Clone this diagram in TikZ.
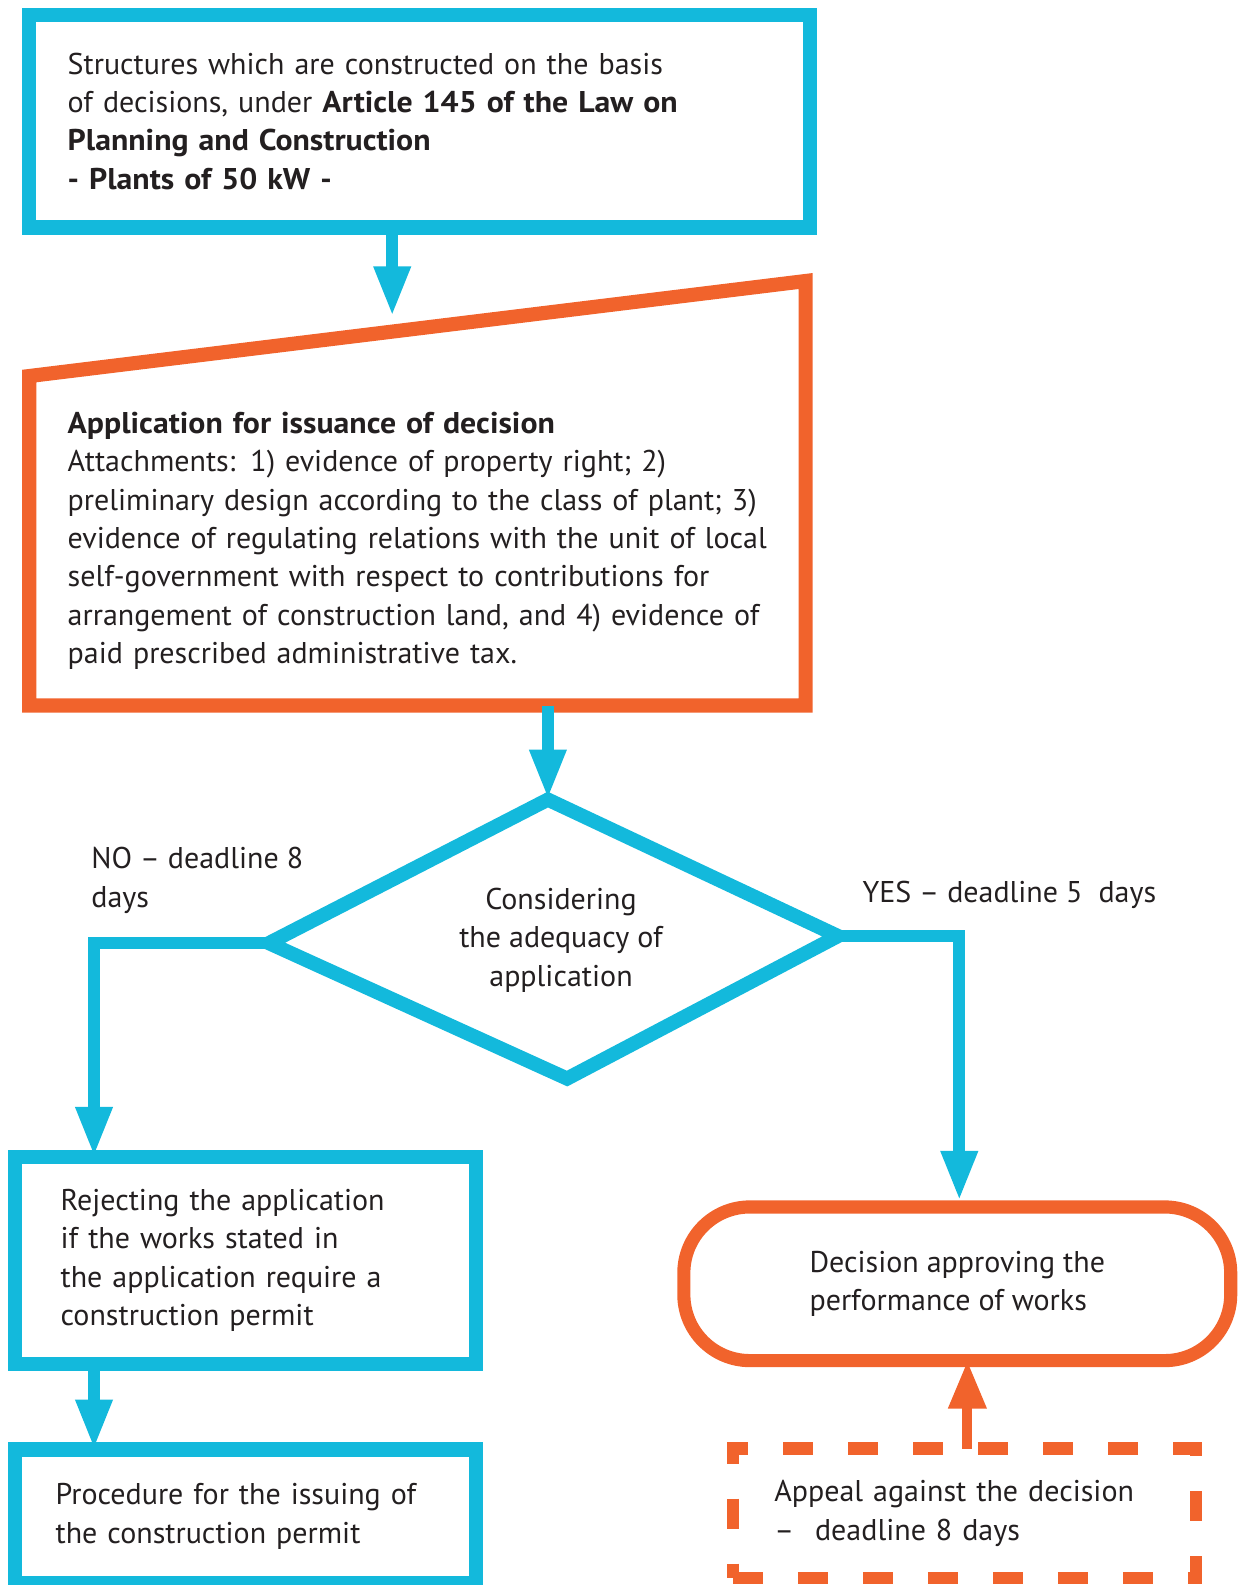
\documentclass[tikz,border=0pt]{standalone}
\usepackage{fontspec}
\setmainfont[BoldFeatures={FakeStretch=1.06}]{PT Sans}
\usepackage{tikz}
\usetikzlibrary{arrows.meta,calc}
\definecolor{cblue}{RGB}{19,185,220}
\definecolor{corange}{RGB}{241,99,44}
\definecolor{ink}{RGB}{35,31,32}
\newdimen\pxu
\pxu=0.5053pt

\begin{document}
\begin{tikzpicture}[x=\pxu, y=-\pxu,
  font=\fontsize{15}{19.2}\selectfont,
  every node/.style={text=ink},
  bbox/.style={draw=cblue, line width=14\pxu, align=left, outer sep=0pt},
  obox/.style={draw=corange, line width=13\pxu, align=left, outer sep=0pt},
  dia/.style={draw=cblue, line width=14\pxu, line join=miter},
  bflow/.style={-{Triangle[length=25pt, width=17pt]}, draw=cblue, line width=12\pxu},
  oflow/.style={-{Triangle[length=24pt, width=18pt]}, draw=corange, line width=10\pxu},
  lab/.style={align=left, inner sep=0pt}]

\useasboundingbox (0,0) rectangle (1225,1568);

\node[bbox, minimum width=772\pxu, minimum height=210\pxu, text width=696\pxu, inner xsep=38\pxu] (top) at (415,120)
  {Structures which are constructed on the basis\\of decisions, under \textbf{Article 145 of the Law on}\\\textbf{Planning and Construction}\\\textbf{- Plants of 50 kW -}};

\node[align=left, outer sep=0pt, minimum width=768\pxu, minimum height=326\pxu, text width=692\pxu, inner xsep=38\pxu] (appl) at (413,535)
  {\textbf{Application for issuance of decision}\\Attachments: 1) evidence of property right; 2)\\preliminary design according to the class of plant; 3)\\evidence of regulating relations with the unit of local\\self-government with respect to contributions for\\arrangement of construction land, and 4) evidence of\\paid prescribed administrative tax.};
\draw[corange, line width=14\pxu, line join=miter] (appl.south west) -- (appl.north west) -- ($(appl.north east)+(0,-94)$) -- (appl.south east) -- cycle;

\coordinate (dtop) at (542,791);
\coordinate (dleft) at (266,933);
\coordinate (dbot) at (561,1067);
\coordinate (dright) at (829,926);
\draw[dia] (dtop) -- (dright) -- (dbot) -- (dleft) -- cycle;
\node[align=center] (cons) at (555,930) {Considering\\the adequacy of\\application};

\node[lab, anchor=west] (nolab) at (90,871) {NO -- deadline 8\\days};
\node[lab, anchor=west] (yeslab) at (853,885) {YES -- deadline 5~~days};

\node[bbox, minimum width=456\pxu, minimum height=205\pxu, text width=366\pxu, inner xsep=45\pxu] (rej) at (243,1247)
  {Rejecting the application\\if the works stated in\\the application require a\\construction permit};

\node[bbox, minimum width=456\pxu, minimum height=132\pxu, text width=376\pxu, inner xsep=40\pxu] (proc) at (243,1500)
  {Procedure for the issuing of\\the construction permit};

\node[obox, rounded corners=33pt, minimum width=541\pxu, minimum height=152\pxu] (dec) at (947,1270)
  {Decision approving the\\performance of works};

\node[obox, line width=12\pxu, dash pattern=on 15pt off 17.5pt, minimum width=458\pxu, minimum height=128\pxu, text width=376\pxu, inner xsep=41\pxu] (appeal) at (954,1497)
  {Appeal against the decision\\--\hspace{0.7em}deadline 8 days};

\coordinate (a1) at (388,313);
\draw[bflow] (top.south -| a1) -- (a1);
\draw[bflow] (appl.south -| dtop) -- (dtop);
\coordinate (nocorner) at (93,933);
\draw[bflow] (dleft) -- (nocorner) -- (rej.north -| nocorner);
\coordinate (yescorner) at (949,926);
\draw[bflow, shorten >=3pt] (dright) -- (yescorner) -- (dec.north -| yescorner);
\draw[bflow] (rej.south -| nocorner) -- (proc.north -| nocorner);
\coordinate (upx) at (957,1400);
\draw[oflow] (appeal.north -| upx) -- (dec.south -| upx);
\end{tikzpicture}
\end{document}
